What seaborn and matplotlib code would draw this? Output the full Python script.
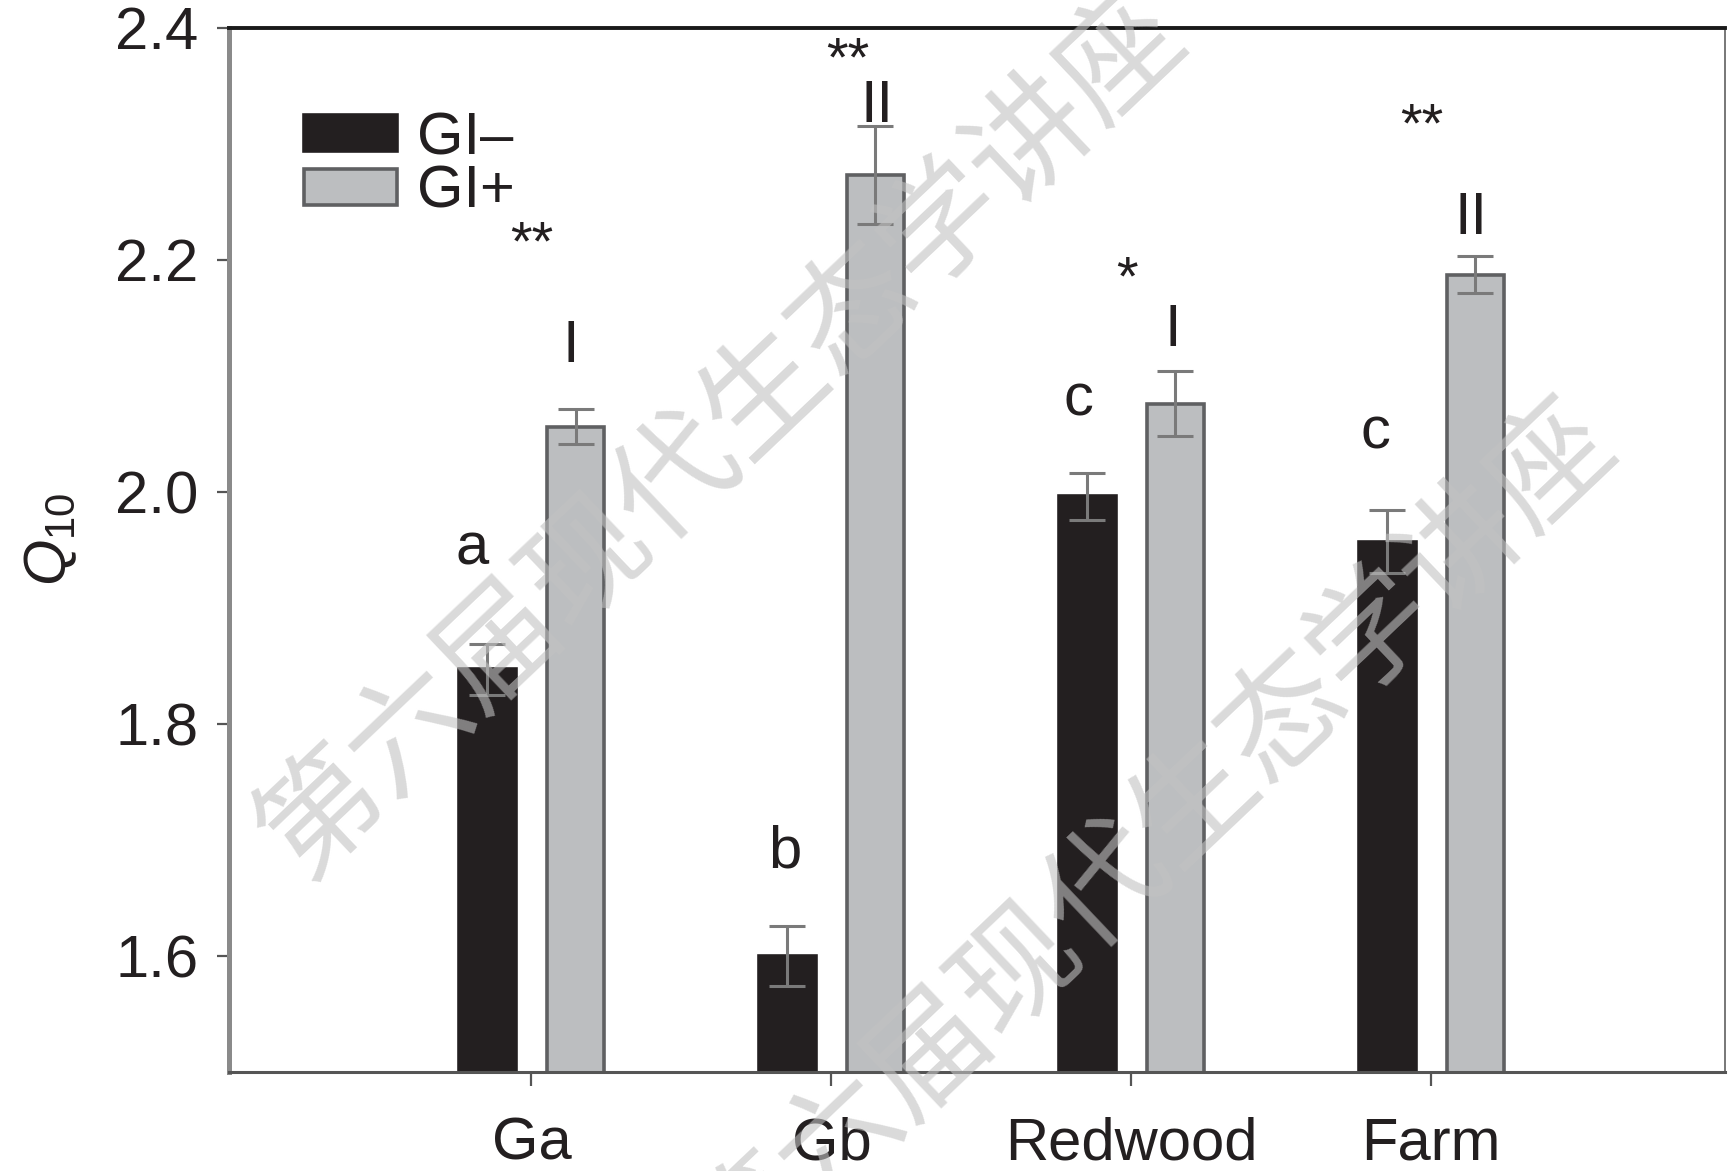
import matplotlib
matplotlib.use("Agg")
import matplotlib.pyplot as plt
from matplotlib.patches import Patch
import seaborn as sns
import pandas as pd

# ---- data ----
sites = ["Ga", "Gb", "Redwood", "Farm"]
groups = ["GI–", "GI+"]
q10_minus = [1.847, 1.600, 1.996, 1.957]
q10_plus = [2.056, 2.273, 2.076, 2.187]
se_minus = [0.022, 0.026, 0.020, 0.027]
se_plus = [0.015, 0.042, 0.028, 0.016]
letters_minus = ["a", "b", "c", "c"]
letters_plus = ["I", "II", "I", "II"]
signif = ["**", "**", "*", "**"]
yticks = [1.6, 1.8, 2.0, 2.2, 2.4]

# annotation placement (baseline heights in Q10 units, x shifts in category units)
letter_minus_y = [1.937, 1.676, 2.066, 2.037]
letter_plus_y = [2.112, 2.319, 2.126, 2.222]
signif_y = [2.200, 2.359, 2.170, 2.302]
letter_minus_dx = [-0.05, -0.01, -0.03, -0.04]
letter_plus_dx = [-0.015, 0.005, -0.01, -0.015]
signif_dx = [0.0, 0.055, -0.015, -0.03]

watermark = "第六届现代生态学讲座"

# ---- style ----
sns.set_theme(style="ticks")
plt.rcParams["font.family"] = ["Liberation Sans", "DejaVu Sans"]
plt.rcParams["mathtext.fontset"] = "custom"
plt.rcParams["mathtext.rm"] = "Liberation Sans"
plt.rcParams["mathtext.it"] = "Liberation Sans:italic"

ink = "#231f20"
black_fill = "#231f20"
gray_fill = "#bcbec0"
gray_edge = "#5f6062"
err_color = "#7a7a7a"

df = pd.DataFrame({
    "site": sites * 2,
    "group": [groups[0]] * len(sites) + [groups[1]] * len(sites),
    "q10": q10_minus + q10_plus,
})

fig = plt.figure(figsize=(17.29, 11.71), dpi=100)
ax = fig.add_axes([0.1324, 0.0845, 0.8653, 0.8919])

sns.barplot(data=df, x="site", y="q10", hue="group", hue_order=groups,
            palette=[black_fill, gray_fill], width=0.588, gap=0.354,
            errorbar=None, linewidth=2.6, saturation=1, legend=False,
            ax=ax, zorder=2)

edge_colors = [black_fill, gray_edge]
errs = [se_minus, se_plus]
centers = []
handles = []
for cont, ec, err, lab in zip(ax.containers, edge_colors, errs, groups):
    xs, hs = [], []
    for p in cont.patches:
        p.set_edgecolor(ec)
        xs.append(p.get_x() + p.get_width() / 2)
        hs.append(p.get_height())
    centers.append(xs)
    first = cont.patches[0]
    handles.append(Patch(facecolor=first.get_facecolor(), edgecolor=ec,
                         linewidth=2.6, label=lab))
    ax.errorbar(xs, hs, yerr=err, fmt="none", ecolor=err_color,
                elinewidth=2.2, capsize=13, capthick=2.2, zorder=3)

# significance letters and asterisks
for i in range(len(sites)):
    ax.text(centers[0][i] + letter_minus_dx[i], letter_minus_y[i], letters_minus[i],
            ha="center", va="baseline", fontsize=43, color=ink)
    ax.text(centers[1][i] + letter_plus_dx[i], letter_plus_y[i], letters_plus[i],
            ha="center", va="baseline", fontsize=43, color=ink)
    ax.text(i + signif_dx[i], signif_y[i], signif[i],
            ha="center", va="baseline", fontsize=40, color=ink)

ax.set_xlim(-1.009, 3.98)
ax.set_ylim(1.5, 2.4)
ax.set_yticks(yticks)
ax.set_yticklabels([f"{v:.1f}" for v in yticks])
ax.set_xlabel("")
ax.set_ylabel(r"$Q_{\mathrm{10}}$", fontsize=43, color=ink)
ax.yaxis.set_label_coords(-0.100, 0.51)

ax.tick_params(axis="y", direction="out", length=9, width=1.6, color="#555555",
               labelsize=43, labelcolor=ink, pad=13)
ax.tick_params(axis="x", direction="out", length=10, width=1.6, color="#555555",
               labelsize=43, labelcolor=ink, pad=22)

for side, col, lw in [("left", "#8a8a8a", 3.6), ("bottom", "#555555", 2.2),
                      ("top", "#1a1a1a", 2.8), ("right", "#777777", 1.4)]:
    ax.spines[side].set_visible(True)
    ax.spines[side].set_color(col)
    ax.spines[side].set_linewidth(lw)

leg = ax.legend(handles=handles, loc="upper left", bbox_to_anchor=(0.050, 0.920),
                frameon=False, fontsize=43, handlelength=1.57, handleheight=0.57,
                handletextpad=0.32, labelspacing=-0.02, borderpad=0,
                borderaxespad=0)
for t in leg.get_texts():
    t.set_color(ink)

# diagonal watermark text
for (cx, cy) in [(722, 436), (1152, 844)]:
    fig.text(cx / 1729, 1 - cy / 1171, watermark, rotation=43.5,
             rotation_mode="anchor", ha="center", va="center",
             fontsize=88, family=["Noto Sans CJK SC", "DejaVu Sans"],
             color="#c2c2c2", alpha=0.6, zorder=10)

fig.savefig("out.png", dpi=100)
